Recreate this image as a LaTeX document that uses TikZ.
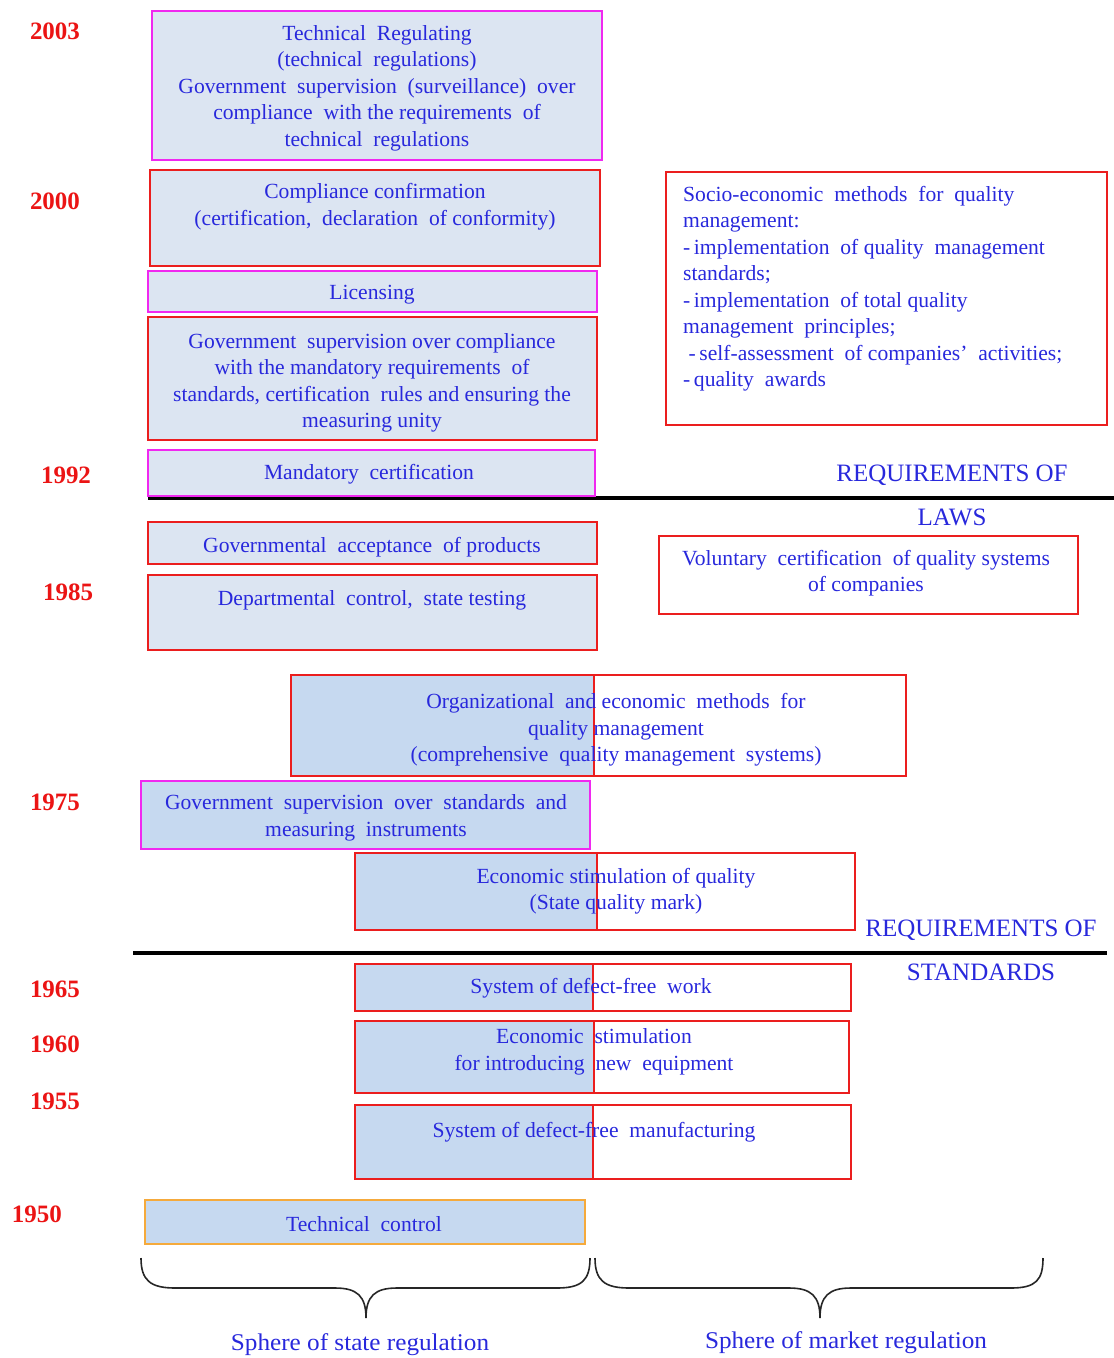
\documentclass[tikz,border=0pt]{standalone}
\usepackage{fontspec}
\setmainfont{Liberation Serif}
\definecolor{txtblue}{RGB}{40,40,220}
\definecolor{yearred}{RGB}{235,20,20}
\definecolor{bordmag}{RGB}{240,40,240}
\definecolor{bordred}{RGB}{235,30,30}
\definecolor{bordorange}{RGB}{245,170,60}
\definecolor{filllight}{RGB}{220,229,242}
\definecolor{filldark}{RGB}{198,217,240}
\tikzset{
  boxmag/.style={draw=bordmag, line width=2pt, fill=filllight},
  boxred/.style={draw=bordred, line width=2pt, fill=filllight},
  boxsplit/.style={draw=bordred, line width=2pt},
  txt/.style={text=txtblue, font=\fontsize{21.6}{26.5}\selectfont, align=center, inner sep=0pt, yshift=-2pt},
  txtl/.style={text=txtblue, font=\fontsize{21.6}{26.5}\selectfont, align=left, inner sep=0pt},
  year/.style={text=yearred, font=\fontsize{25}{28}\selectfont\bfseries, inner sep=0pt},
  req/.style={text=txtblue, font=\fontsize{25}{28}\selectfont, inner sep=0pt},
  sphere/.style={text=txtblue, font=\fontsize{24}{28}\selectfont, inner sep=0pt, xscale=1.05},
  sepline/.style={draw=black, line width=3.5pt},
  bracestyle/.style={draw=black!85, line width=1.6pt},
}
\begin{document}
\begin{tikzpicture}[x=1pt,y=-1pt]
\useasboundingbox (0,0) rectangle (1114,1358);

% separator lines
\draw[sepline] (148,498) coordinate (l1a) -- (1114,498) coordinate (l1b);
\draw[sepline] (133,953) coordinate (l2a) -- (1107,953) coordinate (l2b);

% years
\node[year] (y2003) at (55,31) {2003};
\node[year] (y2000) at (55,201) {2000};
\node[year] (y1992) at (66,475) {1992};
\node[year] (y1985) at (68,592) {1985};
\node[year] (y1975) at (55,802) {1975};
\node[year] (y1965) at (55,989) {1965};
\node[year] (y1960) at (55,1044) {1960};
\node[year] (y1955) at (55,1101) {1955};
\node[year] (y1950) at (37,1214) {1950};

% left column boxes
\draw[boxmag] (152,11) rectangle (602,160);
\node[txt] (t2003) at (377,86) {Technical\ \ Regulating\\(technical\ \ regulations)\\Government\ \ supervision\ \ (surveillance)\ \ over\\compliance\ \ with the requirements\ \ of\\technical\ \ regulations};

\draw[boxred] (150,170) rectangle (600,266);
\node[txt] (t2000) at (375,204.5) {Compliance confirmation\\(certification,\ \ declaration\ \ of conformity)};

\draw[boxmag] (148,271) rectangle (597,312);
\node[txt] (tlic) at (372,293) {Licensing};

\draw[boxred] (148,317) rectangle (597,440);
\node[txt] (tgov) at (372,381) {Government\ \ supervision over compliance\\with the mandatory requirements\ \ of\\standards, certification\ \ rules and ensuring the\\measuring unity};

\draw[boxmag] (148,450) rectangle (595,496);
\node[txt] (tmand) at (369,472) {Mandatory\ \ certification};

\draw[boxred] (148,522) rectangle (597,564);
\node[txt] (tacc) at (372,545) {Governmental\ \ acceptance\ \ of products};

\draw[boxred] (148,575) rectangle (597,650);
\node[txt] (tdep) at (372,598) {Departmental\ \ control,\ \ state testing};

% right boxes
\draw[boxsplit] (666,172) rectangle (1107,425);
\node[txtl, anchor=north west] (tsoc) at (683,186) {Socio-economic\ \ methods\ \ for\ \ quality\\management:\\-\,implementation\ \ of quality\ \ management\\standards;\\-\,implementation\ \ of total quality\\management\ \ principles;\\\ -\,self-assessment\ \ of companies'\ \ activities;\\-\,quality\ \ awards};

\node[req] (rl1) at (952,475) {REQUIREMENTS OF};
\node[req] (rl2) at (952,517) {LAWS};

\draw[boxsplit] (659,536) rectangle (1078,614);
\node[txt] (tvol) at (866,571) {Voluntary\ \ certification\ \ of quality systems\\of companies};

% split boxes
\fill[filldark] (291,675) rectangle (594,776);
\draw[boxsplit] (291,675) rectangle (906,776);
\draw[boxsplit] (594,675) -- (594,776);
\node[txt] (torg) at (616,728) {Organizational\ \ and economic\ \ methods\ \ for\\quality management\\(comprehensive\ \ quality management\ \ systems)};

\draw[draw=bordmag, line width=2pt, fill=filldark] (141,781) rectangle (590,849);
\node[txt] (t1975) at (366,816) {Government\ \ supervision\ \ over\ \ standards\ \ and\\measuring\ \ instruments};

\fill[filldark] (355,853) rectangle (597,930);
\draw[boxsplit] (355,853) rectangle (855,930);
\draw[boxsplit] (597,853) -- (597,930);
\node[txt] (tmark) at (616,889) {Economic stimulation of quality\\(State quality mark)};

\node[req] (rs1) at (981,930) {REQUIREMENTS OF};
\node[req] (rs2) at (981,972) {STANDARDS};

\fill[filldark] (355,964) rectangle (593,1011);
\draw[boxsplit] (355,964) rectangle (851,1011);
\draw[boxsplit] (593,964) -- (593,1011);
\node[txt] (twork) at (591,986) {System of defect-free\ \ work};

\fill[filldark] (355,1021) rectangle (594,1093);
\draw[boxsplit] (355,1021) rectangle (849,1093);
\draw[boxsplit] (594,1021) -- (594,1093);
\node[txt] (tequip) at (594,1050) {Economic\ \ stimulation\\for introducing\ \ new\ \ equipment};

\fill[filldark] (355,1105) rectangle (593,1179);
\draw[boxsplit] (355,1105) rectangle (851,1179);
\draw[boxsplit] (593,1105) -- (593,1179);
\node[txt] (tmanu) at (594,1130) {System of defect-free\ \ manufacturing};

\draw[draw=bordorange, line width=2pt, fill=filldark] (145,1200) rectangle (585,1244);
\node[txt] (ttech) at (364,1222) {Technical\ \ control};

% braces
\draw[bracestyle] (141,1258) .. controls (141,1280) and (150,1288) .. (175,1288) -- (335,1288) .. controls (357,1288) and (366,1296) .. (366,1318) .. controls (366,1296) and (375,1288) .. (397,1288) -- (557,1288) .. controls (582,1288) and (590,1280) .. (590,1258);
\draw[bracestyle] (595,1258) .. controls (595,1280) and (604,1288) .. (629,1288) -- (789,1288) .. controls (811,1288) and (820,1296) .. (820,1318) .. controls (820,1296) and (829,1288) .. (851,1288) -- (1011,1288) .. controls (1036,1288) and (1043,1280) .. (1043,1258);

\node[sphere] (sstate) at (360,1345) {Sphere of state regulation};
\node[sphere] (smarket) at (846,1343) {Sphere of market regulation};
\end{tikzpicture}
\end{document}
